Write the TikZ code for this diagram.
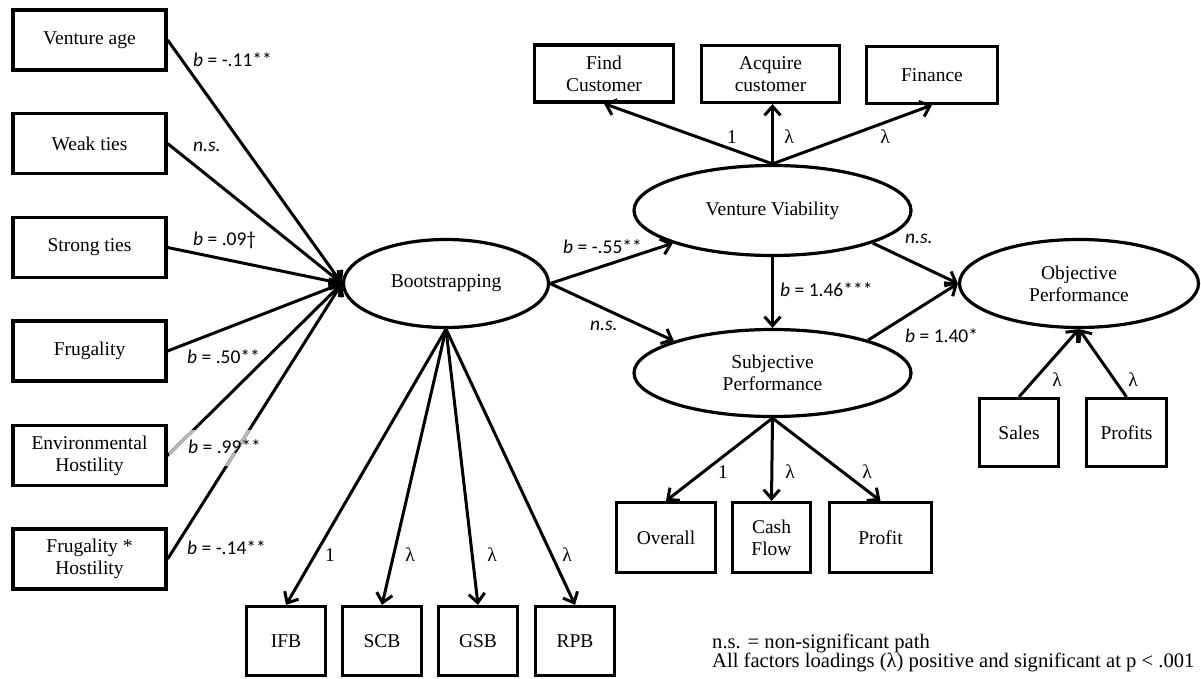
\documentclass[tikz,border=0pt]{standalone}
\usepackage{fontspec}
\setmainfont{Liberation Serif}
\newfontfamily\lblfont{Carlito}
\usetikzlibrary{arrows.meta,shapes.geometric,calc}
\begin{document}
\begin{tikzpicture}[x=1pt,y=-1pt,
  every node/.style={font=\fontsize{19.5}{22}\selectfont},
  obs/.style={draw, line width=3.2pt, inner sep=0pt, align=center},
  latent/.style={draw, ellipse, line width=3.2pt, inner sep=0pt, align=center},
  arr/.style={line width=3pt, -{Straight Barb[length=9pt,width=16pt]}},
  plainline/.style={line width=3pt},
  coef/.style={font=\lblfont\fontsize{19.5}{22}\selectfont, inner sep=0pt, anchor=west},
  load/.style={inner sep=0pt},
  note/.style={inner sep=0pt, anchor=west, font=\fontsize{20.6}{22}\selectfont},
]
\useasboundingbox (0,0) rectangle (1201,679);

% predictors
\node[obs, minimum width=153pt, minimum height=60pt] (va) at (89.5,40) {Venture age};
\node[obs, minimum width=153pt, minimum height=60pt] (wt) at (89.5,143.5) {Weak ties};
\node[obs, minimum width=153pt, minimum height=60pt] (st) at (89.5,247.5) {Strong ties};
\node[obs, minimum width=153pt, minimum height=60pt] (fr) at (89.5,351) {Frugality};
\node[obs, minimum width=153pt, minimum height=60pt] (eh) at (89.5,455.5) {Environmental\\Hostility};
\node[obs, minimum width=153pt, minimum height=60pt] (fh) at (89.5,559) {Frugality *\\Hostility};

% latent factors
\node[latent, minimum width=205pt, minimum height=88pt] (boot) at (446,283.5) {Bootstrapping};
\node[latent, minimum width=277pt, minimum height=90pt] (vv) at (772.5,210.5) {Venture Viability};
\node[latent, minimum width=277pt, minimum height=87pt] (subj) at (772.5,373) {Subjective\\Performance};
\node[latent, minimum width=239pt, minimum height=88pt] (obj) at (1079,283.5) {Objective\\Performance};

% bootstrapping indicators
\node[obs, minimum width=79pt, minimum height=69pt] (ifb) at (286,641) {IFB};
\node[obs, minimum width=79pt, minimum height=69pt] (scb) at (382,641) {SCB};
\node[obs, minimum width=79pt, minimum height=69pt] (gsb) at (478,641) {GSB};
\node[obs, minimum width=79pt, minimum height=69pt] (rpb) at (575,641) {RPB};

% viability indicators
\node[obs, minimum width=139pt, minimum height=57pt] (find) at (604,73.5) {Find\\Customer};
\node[obs, minimum width=138pt, minimum height=57pt] (acq) at (770.5,74) {Acquire\\customer};
\node[obs, minimum width=131pt, minimum height=57pt] (fin) at (932,75) {Finance};

% subjective performance indicators
\node[obs, minimum width=99pt, minimum height=70pt] (overall) at (666,537.5) {Overall};
\node[obs, minimum width=78pt, minimum height=70pt] (cash) at (771.5,537.5) {Cash\\Flow};
\node[obs, minimum width=102pt, minimum height=70pt] (profit) at (880.5,537.5) {Profit};

% objective performance indicators
\node[obs, minimum width=79pt, minimum height=68pt] (sales) at (1019,432.5) {Sales};
\node[obs, minimum width=80pt, minimum height=68pt] (profits) at (1126.5,432.5) {Profits};

% structural paths into bootstrapping
\draw[arr] (va.east) -- (boot.west);
\draw[arr] (wt.east) -- (boot.west);
\draw[arr] (st.east) -- (boot.west);
\draw[arr] (fr.east) -- (boot.west);
\draw[arr] (eh.east) -- (boot.west);
\draw[arr] (fh.east) -- (boot.west);

% light segments where the lines cross the coefficient box
\begin{scope}
  \clip (169,430) rectangle (262,465);
  \draw[plainline, draw=black!28] (eh.east) -- (boot.west);
  \draw[plainline, draw=black!28] (fh.east) -- (boot.west);
\end{scope}

% measurement paths
\draw[arr] (boot.south) -- (ifb.north);
\draw[arr] (boot.south) -- (scb.north);
\draw[arr] (boot.south) -- (gsb.north);
\draw[arr] (boot.south) -- (rpb.north);

\draw[arr] (vv.north) -- (find.south);
\draw[arr] (vv.north) -- (vv.north |- acq.south);
\draw[arr] (vv.north) -- (fin.south);

\draw[arr] (subj.south) -- (overall.north);
\draw[arr] (subj.south) -- (cash.north);
\draw[arr] (subj.south) -- (profit.north);

\draw[arr] (sales.north) -- (obj.south);
\draw[arr] (profits.north) -- (obj.south);

% structural paths between latent factors
\draw[arr] (boot.east) -- (vv);
\draw[arr] (boot.east) -- (subj.162);
\draw[arr] (vv.south) -- (subj.north);
\draw[arr] (vv.342) -- (obj.west);
\draw[arr] (subj.19) -- (obj.west);

% path coefficients
\node[coef] (c1) at (193,60) {\textit{b} = -.11**};
\node[coef] (c2) at (193,147) {\textit{n.s.}};
\node[coef] (c3) at (193,240) {\textit{b} = .09†};
\node[coef] (c4) at (187,357) {\textit{b} = .50**};
\node[coef] (c5) at (188,447) {\textit{b} = .99**};
\node[coef] (c6) at (187,548) {\textit{b} = -.14**};
\node[coef] (c7) at (563,247) {\textit{b} = -.55**};
\node[coef] (c8) at (590,326) {\textit{n.s.}};
\node[coef] (c9) at (780,290) {\textit{b} = 1.46***};
\node[coef] (c10) at (905,239) {\textit{n.s.}};
\node[coef] (c11) at (905,336) {\textit{b} = 1.40*};

% factor loadings
\node[load] (l1) at (330,555) {1};
\node[load] (l2) at (410,555) {λ};
\node[load] (l3) at (492,555) {λ};
\node[load] (l4) at (567,555) {λ};
\node[load] (l5) at (732,137) {1};
\node[load] (l6) at (789,137) {λ};
\node[load] (l7) at (885,137) {λ};
\node[load] (l8) at (723,472) {1};
\node[load] (l9) at (790,472) {λ};
\node[load] (l10) at (867,472) {λ};
\node[load] (l11) at (1057,380) {λ};
\node[load] (l12) at (1133,380) {λ};

% notes
\node[note] (n1) at (712,643) {n.s. = non-significant path};
\node[note] (n2) at (712,662) {All factors loadings (λ) positive and significant at p < .001};
\end{tikzpicture}
\end{document}
